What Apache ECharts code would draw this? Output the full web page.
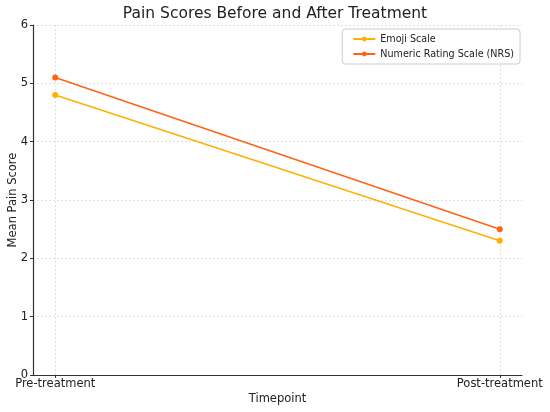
<!DOCTYPE html>
<html>
<head>
<meta charset="utf-8">
<script src="https://cdn.jsdelivr.net/npm/echarts@6/dist/echarts.min.js"></script>
<style>
html, body { margin: 0; padding: 0; background: #fff; }
#container { width: 550px; height: 412px; }
</style>
</head>
<body>
<div id="container"></div>
<script>
// 数据
var categories = ['Pre-treatment', 'Post-treatment'];
var emojiScores = [4.8, 2.3];
var nrsScores = [5.1, 2.5];
var seriesNames = ['Emoji Scale', 'Numeric Rating Scale (NRS)'];
var yTicks = [0, 1, 2, 3, 4, 5, 6];

var font = 'DejaVu Sans';
//把类别放到数值轴上的 0,1 位置，左右各留 5% 余量
function toPairs(values) {
    return values.map(function (v, i) { return [i, v]; });
}
var catIdx = categories.map(function (c, i) { return i; });

var dom = document.getElementById('container');
var myChart = echarts.init(dom);
var option = {
    animation: false,
    backgroundColor: '#fff',
    title: {
        text: 'Pain Scores Before and After Treatment',
        left: 'center',
        top: 1,
        textStyle: { fontFamily: font, fontSize: 15.5, fontWeight: 'normal', color: '#222' }
    },
    legend: {
        orient: 'vertical',
        right: 30,
        top: 29,
        itemWidth: 22,
        itemHeight: 6,
        itemGap: 5,
        padding: [5, 6, 5, 10],
        borderColor: '#ccc',
        borderWidth: 1,
        borderRadius: 3,
        backgroundColor: '#fff',
        textStyle: { fontFamily: font, fontSize: 9.6, color: '#222' },
        data: seriesNames
    },
    grid: { left: 33, right: 28, top: 25, bottom: 37, outerBoundsMode: 'none', containLabel: false },
    xAxis: {
        type: 'value',
        min: -0.05,
        max: 1.05,
        name: 'Timepoint',
        nameLocation: 'middle',
        nameGap: 18,
        nameMoveOverlap: false,
        nameTextStyle: { fontFamily: font, fontSize: 11.5, color: '#222' },
        axisLine: { onZero: false, lineStyle: { color: '#333', width: 1.2 } },
        axisTick: { show: true, customValues: catIdx, length: 3, lineStyle: { color: '#333' } },
        axisLabel: {
            customValues: catIdx,
            fontFamily: font, fontSize: 11.5, color: '#222', margin: 3,
            formatter: function (v) { return categories[Math.round(v)]; }
        },
        splitLine: { show: false }
    },
    yAxis: {
        type: 'value',
        min: 0,
        max: 6,
        interval: 1,
        name: 'Mean Pain Score',
        nameLocation: 'middle',
        nameGap: 14,
        nameMoveOverlap: false,
        nameTextStyle: { fontFamily: font, fontSize: 11.5, color: '#222' },
        axisLine: { show: true, onZero: false, lineStyle: { color: '#333', width: 1.2 } },
        axisTick: { show: true, length: 3, lineStyle: { color: '#333' } },
        axisLabel: {
            fontFamily: font, fontSize: 11.5, color: '#222', margin: 5,
            formatter: function (v) { return yTicks.indexOf(v) >= 0 ? String(v) : ''; }
        },
        splitLine: { show: true, lineStyle: { color: '#d8d8d8', type: [2, 2], width: 0.8 } }
    },
    series: [
        {
            name: seriesNames[0],
            type: 'line',
            data: toPairs(emojiScores),
            symbol: 'circle',
            symbolSize: 6,
            color: '#FFB000',
            lineStyle: { width: 1.5 },
            //竖向网格线用 markLine 画
            markLine: {
                silent: true,
                symbol: 'none',
                label: { show: false },
                lineStyle: { color: '#d8d8d8', type: [2, 2], width: 0.8 },
                data: catIdx.map(function (i) { return { xAxis: i }; }),
                z: 0
            },
            z: 3
        },
        {
            name: seriesNames[1],
            type: 'line',
            data: toPairs(nrsScores),
            symbol: 'circle',
            symbolSize: 6,
            color: '#FF6314',
            lineStyle: { width: 1.5 },
            z: 4
        }
    ]
};
myChart.setOption(option, true);
</script>
</body>
</html>
